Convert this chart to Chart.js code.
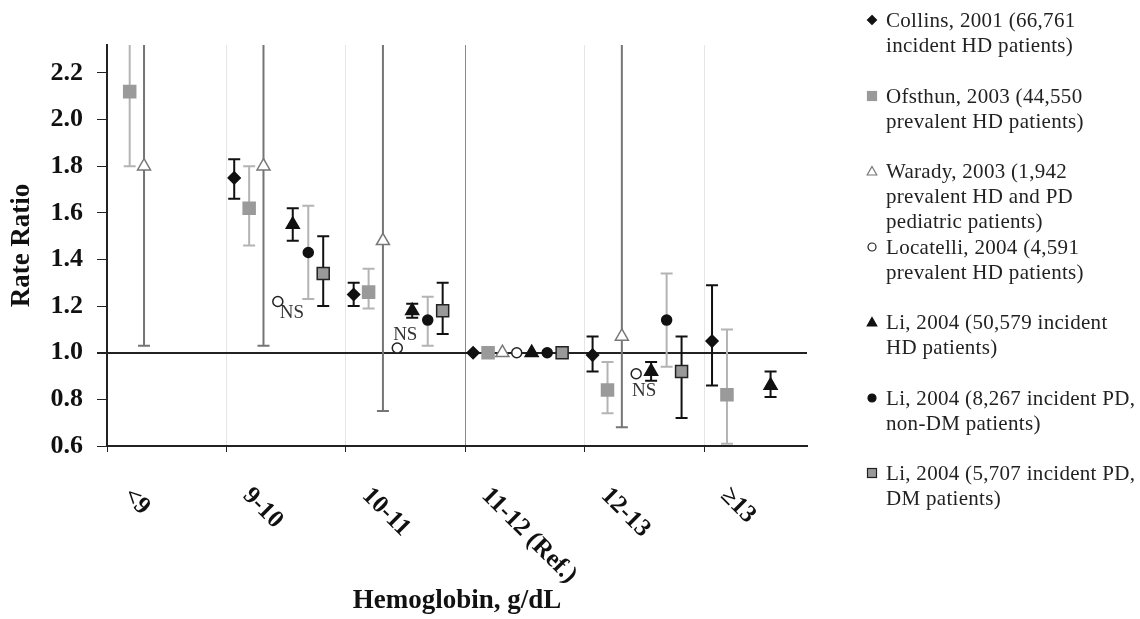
<!DOCTYPE html>
<html>
<head>
<meta charset="utf-8">
<title>Rate Ratio by Hemoglobin</title>
<script src="https://cdn.jsdelivr.net/npm/chart.js@4.4.1/dist/chart.umd.min.js"></script>
<style>
  html, body { margin: 0; padding: 0; background: #fff; }
  #wrap { position: relative; width: 1140px; height: 619px; }
  .item { position: absolute; left: 866px; font: 21px "Liberation Serif", "Times New Roman", serif;
    line-height: 25px; color: #222; letter-spacing: 0.3px; white-space: nowrap; }
  .item svg { position: absolute; left: 0; top: 6px; }
  .item div { margin-left: 20px; }
</style>
</head>
<body>
<div id="wrap">
  <canvas id="chart"></canvas>
  <div id="legend"></div>
</div>
<script>
const categories = ['<9', '9-10', '10-11', '11-12 (Ref.)', '12-13', '≥13'];
const yTicks = [0.6, 0.8, 1.0, 1.2, 1.4, 1.6, 1.8, 2.0, 2.2];
const nsLabels = ['', 'NS', 'NS', '', 'NS', ''];

const collins = [null, 1.75, 1.25, 1.00, 0.99, 1.05];
const collinsLow = [null, 1.66, 1.20, null, 0.92, 0.86];
const collinsHigh = [null, 1.83, 1.30, null, 1.07, 1.29];

const ofsthun = [2.12, 1.62, 1.26, 1.00, 0.84, 0.82];
const ofsthunLow = [1.80, 1.46, 1.19, null, 0.74, 0.61];
const ofsthunHigh = [2.60, 1.80, 1.36, null, 0.96, 1.10];

const warady = [1.80, 1.80, 1.48, 1.00, 1.07, null];
const waradyLow = [1.03, 1.03, 0.75, null, 0.68, null];
const waradyHigh = [2.60, 2.60, 2.60, null, 2.60, null];

const locatelli = [null, 1.22, 1.02, 1.00, 0.91, null];

const liHd = [null, 1.55, 1.18, 1.00, 0.92, 0.86];
const liHdLow = [null, 1.48, 1.15, null, 0.88, 0.81];
const liHdHigh = [null, 1.62, 1.21, null, 0.96, 0.92];

const liPdNonDm = [null, 1.43, 1.14, 1.00, 1.14, null];
const liPdNonDmLow = [null, 1.23, 1.03, null, 0.94, null];
const liPdNonDmHigh = [null, 1.63, 1.24, null, 1.34, null];

const liPdDm = [null, 1.34, 1.18, 1.00, 0.92, null];
const liPdDmLow = [null, 1.20, 1.08, null, 0.72, null];
const liPdDmHigh = [null, 1.50, 1.30, null, 1.07, null];

const serif = "'Liberation Serif', 'Times New Roman', serif";

// one entry per study; offset = place inside the category band
const series = [
  { label: ['Collins, 2001 (66,761', 'incident HD patients)'], values: collins, low: collinsLow, high: collinsHigh,
    offset: 0.065, pointStyle: 'rectRot', radius: 6, fill: '#111', stroke: '#111', bar: '#111' },
  { label: ['Ofsthun, 2003 (44,550', 'prevalent HD patients)'], values: ofsthun, low: ofsthunLow, high: ofsthunHigh,
    offset: 0.19, pointStyle: 'rect', radius: 8.5, fill: '#9a9a9a', stroke: '#9a9a9a', bar: '#b4b4b4' },
  { label: ['Warady, 2003 (1,942', 'prevalent HD and PD', 'pediatric patients)'], values: warady, low: waradyLow, high: waradyHigh,
    offset: 0.31, pointStyle: 'triangle', radius: 7.5, fill: '#fff', stroke: '#777', bar: '#757575' },
  { label: ['Locatelli, 2004 (4,591', 'prevalent HD patients)'], values: locatelli, low: null, high: null,
    offset: 0.43, pointStyle: 'circle', radius: 5, fill: '#fff', stroke: '#222', bar: '#222' },
  { label: ['Li, 2004 (50,579 incident', 'HD patients)'], values: liHd, low: liHdLow, high: liHdHigh,
    offset: 0.555, pointStyle: 'triangle', radius: 7.5, fill: '#111', stroke: '#111', bar: '#111' },
  { label: ['Li, 2004 (8,267 incident PD,', 'non-DM patients)'], values: liPdNonDm, low: liPdNonDmLow, high: liPdNonDmHigh,
    offset: 0.685, pointStyle: 'circle', radius: 5, fill: '#111', stroke: '#111', bar: '#b4b4b4' },
  { label: ['Li, 2004 (5,707 incident PD,', 'DM patients)'], values: liPdDm, low: liPdDmLow, high: liPdDmHigh,
    offset: 0.81, pointStyle: 'rect', radius: 8.5, fill: '#999', stroke: '#222', bar: '#111' }
];

const errorBars = {
  id: 'errorBars',
  beforeDatasetsDraw(chart) {
    const { ctx, chartArea, scales: { x, y } } = chart;
    ctx.save();
    ctx.beginPath();
    ctx.rect(chartArea.left, chartArea.top, chartArea.right - chartArea.left, chartArea.bottom - chartArea.top);
    ctx.clip();
    ctx.lineWidth = 2;
    series.forEach(s => {
      if (!s.low) return;
      ctx.strokeStyle = s.bar;
      s.values.forEach((v, i) => {
        if (v === null || s.low[i] === null) return;
        const px = x.getPixelForValue(i + s.offset);
        const top = y.getPixelForValue(s.high[i]);
        const bot = y.getPixelForValue(s.low[i]);
        ctx.beginPath();
        ctx.moveTo(px, top); ctx.lineTo(px, bot);
        ctx.moveTo(px - 6, top); ctx.lineTo(px + 6, top);
        ctx.moveTo(px - 6, bot); ctx.lineTo(px + 6, bot);
        ctx.stroke();
      });
    });
    ctx.restore();
  }
};

const labelsAndNotes = {
  id: 'labelsAndNotes',
  afterDraw(chart) {
    const { ctx, scales: { x, y } } = chart;
    // slanted category labels, reading downwards to the right
    ctx.save();
    ctx.fillStyle = '#111';
    ctx.font = 'bold 25px ' + serif;
    ctx.textAlign = 'left';
    ctx.textBaseline = 'middle';
    categories.forEach((c, i) => {
      ctx.save();
      ctx.translate(x.getPixelForValue(i) + 20, x.top + 46);
      ctx.rotate(Math.PI / 4);
      ctx.fillText(c, 0, 0);
      ctx.restore();
    });
    // "NS" marks next to the Locatelli points
    const shift = { 1: [14, 12], 2: [8, -13], 4: [8, 17] };
    const loc = series[3];
    ctx.font = '19px ' + serif;
    ctx.fillStyle = '#333';
    ctx.textAlign = 'center';
    nsLabels.forEach((t, i) => {
      if (!t) return;
      const px = x.getPixelForValue(i + loc.offset) + shift[i][0];
      const py = y.getPixelForValue(loc.values[i]) + shift[i][1];
      ctx.fillText(t, px, py);
    });
    ctx.restore();
  }
};

new Chart(document.getElementById('chart'), {
  type: 'scatter',
  data: {
    datasets: series.map(s => ({
      label: s.label.join(' '),
      data: s.values.map((v, i) => (v === null ? null : { x: i + s.offset, y: v })).filter(p => p),
      pointStyle: s.pointStyle,
      pointRadius: s.radius,
      pointBackgroundColor: s.fill,
      pointBorderColor: s.stroke,
      pointBorderWidth: 1.5,
      showLine: false
    }))
  },
  options: {
    responsive: true,
    maintainAspectRatio: false,
    animation: false,
    layout: { padding: { top: 45, right: 333, left: 0, bottom: 0 } },
    plugins: { legend: { display: false }, tooltip: { enabled: false } },
    scales: {
      x: {
        type: 'linear',
        min: 0,
        max: 5.86,
        afterBuildTicks: s => { s.ticks = categories.map((c, i) => ({ value: i })); },
        afterFit: s => { s.height = 173; },
        ticks: { display: false },
        grid: {
          color: c => (c.tick.value === 3 ? '#8a8a8a' : c.tick.value === 0 ? 'rgba(0,0,0,0)' : '#e6e6e6'),
          tickColor: '#222',
          tickLength: 6
        },
        border: { color: '#222', width: 2 },
        title: {
          display: true,
          text: 'Hemoglobin, g/dL',
          color: '#111',
          font: { family: serif, size: 27, weight: 'bold' },
          padding: { top: 0, bottom: 2 }
        }
      },
      y: {
        min: 0.6,
        max: 2.32,
        afterBuildTicks: s => { s.ticks = yTicks.map(v => ({ value: v })); },
        afterFit: s => { s.width = 107; },
        ticks: {
          color: '#111',
          font: { family: serif, size: 26, weight: 'bold' },
          padding: 14,
          callback: v => v.toFixed(1)
        },
        grid: {
          color: c => (c.tick.value === 1 ? '#222' : 'rgba(0,0,0,0)'),
          lineWidth: c => (c.tick.value === 1 ? 2 : 1),
          tickColor: '#222',
          tickLength: 10
        },
        border: { color: '#222', width: 2 },
        title: {
          display: true,
          text: 'Rate Ratio',
          color: '#111',
          font: { family: serif, size: 27, weight: 'bold' },
          padding: { top: 6, bottom: 0 }
        }
      }
    }
  },
  plugins: [errorBars, labelsAndNotes]
});

function markerSvg(s) {
  const a = `fill="${s.fill}" stroke="${s.stroke}" stroke-width="1.2"`;
  let shape;
  if (s.pointStyle === 'rectRot') shape = `<polygon points="6,1.5 10.5,6 6,10.5 1.5,6" ${a}/>`;
  else if (s.pointStyle === 'rect') shape = `<rect x="1.5" y="1.5" width="9" height="9" ${a}/>`;
  else if (s.pointStyle === 'triangle') shape = `<polygon points="6,1.5 10.8,10 1.2,10" ${a}/>`;
  else shape = `<circle cx="6" cy="6" r="4" ${a}/>`;
  return `<svg width="12" height="12" viewBox="0 0 12 12">${shape}</svg>`;
}

const legendEl = document.getElementById('legend');
series.forEach((s, i) => {
  const item = document.createElement('div');
  item.className = 'item';
  item.style.top = (8 + i * 75.5) + 'px';
  item.innerHTML = markerSvg(s) + '<div>' + s.label.join('<br>') + '</div>';
  legendEl.appendChild(item);
});
</script>
</body>
</html>
